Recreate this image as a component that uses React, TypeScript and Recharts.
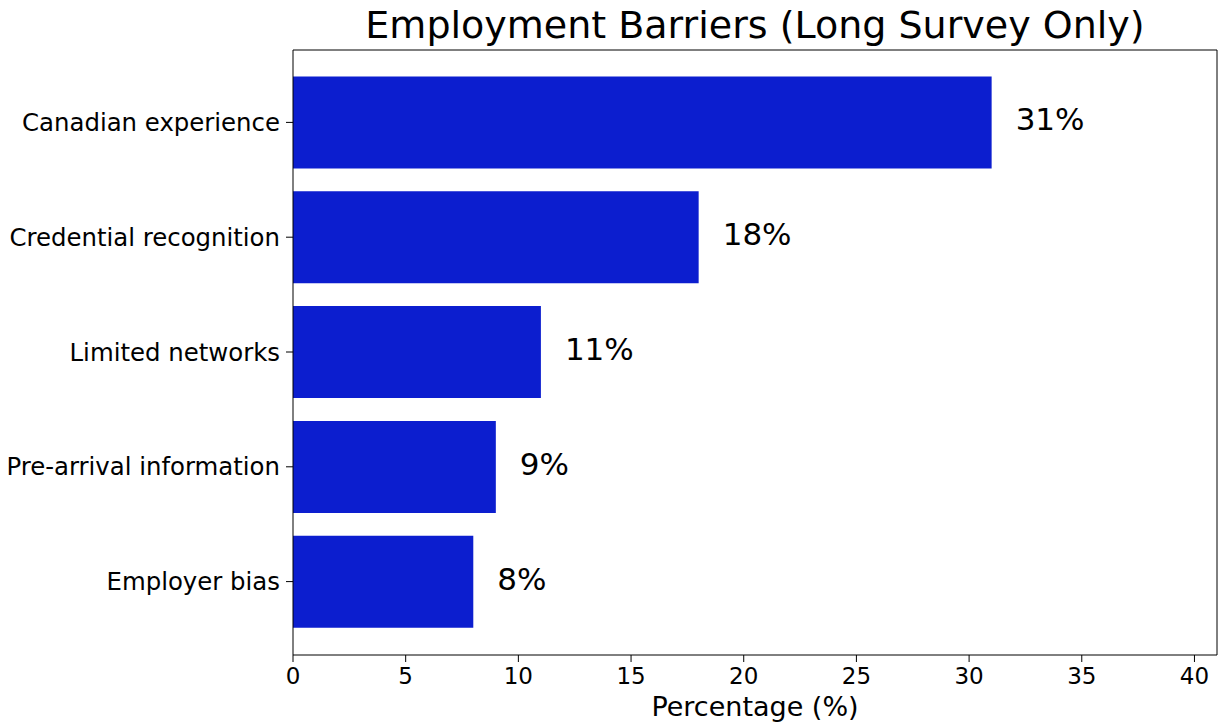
import React from "react";
import { BarChart, Bar, XAxis, YAxis, LabelList } from "recharts";

const categories = [
  "Canadian experience",
  "Credential recognition",
  "Limited networks",
  "Pre-arrival information",
  "Employer bias",
];
const percentages = [31, 18, 11, 9, 8];
const xTicks = [0, 5, 10, 15, 20, 25, 30, 35, 40];

const data = categories.map((c, i) => ({ name: c, value: percentages[i] }));

const FONT = "DejaVu Sans, Verdana, sans-serif";

export default function App() {
  return (
    <div style={{ position: "absolute", left: 0, top: 0, width: 1225, height: 723, background: "#fff", fontFamily: FONT }}>
      <div
        style={{
          position: "absolute",
          left: 293,
          width: 924,
          top: 2,
          textAlign: "center",
          fontSize: 38,
          lineHeight: "46px",
          color: "#000",
          fontFamily: FONT,
        }}
      >
        Employment Barriers (Long Survey Only)
      </div>
      <BarChart
        width={1225}
        height={723}
        data={data}
        layout="vertical"
        margin={{ top: 49, right: 7, bottom: 0, left: 0 }}
        barCategoryGap="10%"
      >
        <XAxis
          xAxisId="b"
          type="number"
          domain={[0, 41]}
          ticks={xTicks}
          interval={0}
          allowDataOverflow
          tickLine={{ stroke: "#000" }}
          tickSize={7}
          tickMargin={6}
          axisLine={{ stroke: "#000" }}
          tick={{ fill: "#000", fontSize: 23, fontFamily: FONT }}
          height={68}
          label={{ value: "Percentage (%)", position: "insideBottom", offset: 7, fill: "#000", fontSize: 27, fontFamily: FONT }}
        />
        <XAxis
          xAxisId="t"
          orientation="top"
          type="number"
          domain={[0, 41]}
          tick={false}
          tickLine={false}
          axisLine={{ stroke: "#000" }}
          height={1}
        />
        <YAxis
          yAxisId="l"
          type="category"
          dataKey="name"
          width={293}
          padding={{ top: 15, bottom: 16 }}
          tickLine={{ stroke: "#000" }}
          tickSize={7}
          tickMargin={6}
          axisLine={{ stroke: "#000" }}
          tick={{ fill: "#000", fontSize: 24.4, fontFamily: FONT }}
          interval={0}
        />
        <YAxis
          yAxisId="r"
          orientation="right"
          type="category"
          dataKey="name"
          width={1}
          tick={false}
          tickLine={false}
          axisLine={{ stroke: "#000" }}
        />
        <Bar dataKey="value" xAxisId="b" yAxisId="l" fill="#0c1ecf" isAnimationActive={false}>
          <LabelList
            dataKey="value"
            position="right"
            offset={24}
            dy={-3}
            formatter={(v: any) => `${v}%`}
            style={{ fill: "#000", fontSize: 31, fontFamily: FONT }}
          />
        </Bar>
      </BarChart>
    </div>
  );
}
